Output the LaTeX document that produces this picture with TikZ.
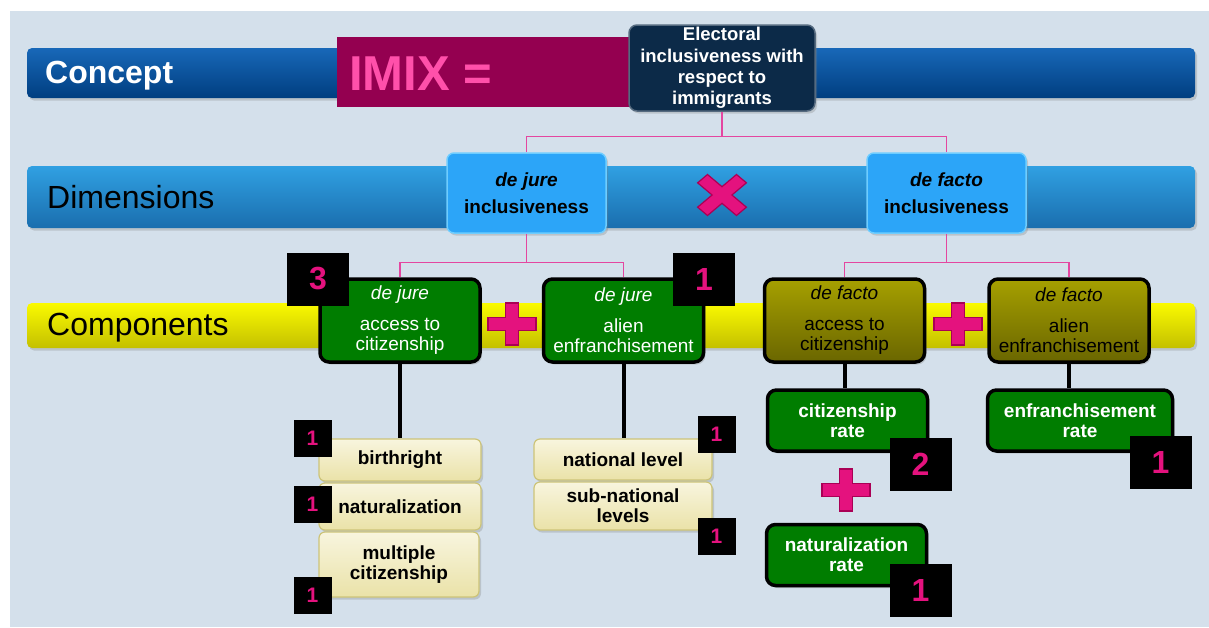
\documentclass[tikz,border=0pt]{standalone}
\usepackage{fontspec}
\setmainfont{Liberation Sans}
\usetikzlibrary{shadows}

\definecolor{panelbg}{RGB}{212,224,235}
\definecolor{conceptA}{RGB}{24,104,184}
\definecolor{conceptB}{RGB}{0,62,128}
\definecolor{imixbg}{RGB}{148,0,80}
\definecolor{imixtext}{RGB}{255,80,170}
\definecolor{navy}{RGB}{12,42,72}
\definecolor{dimA}{RGB}{48,160,226}
\definecolor{dimB}{RGB}{26,110,174}
\definecolor{dimfill}{RGB}{44,165,248}
\definecolor{dimedge}{RGB}{110,205,255}
\definecolor{yelA}{RGB}{250,250,0}
\definecolor{yelB}{RGB}{196,192,0}
\definecolor{leafgreen}{RGB}{0,125,0}
\definecolor{oliveA}{RGB}{166,160,0}
\definecolor{oliveB}{RGB}{106,102,0}
\definecolor{creamA}{RGB}{248,245,222}
\definecolor{creamB}{RGB}{234,226,168}
\definecolor{creamedge}{RGB}{205,196,120}
\definecolor{linkpink}{RGB}{228,70,160}
\definecolor{markpink}{RGB}{228,18,126}
\definecolor{markedge}{RGB}{170,0,85}

\newcommand{\bigfont}{\fontsize{32}{36}\selectfont}
\newcommand{\boxfont}{\fontsize{19}{20}\selectfont}
% cross shape: half length x, half length y, half thickness
\newcommand{\crosspath}[3]{(-#3,-#2) -- (#3,-#2) -- (#3,-#3) -- (#1,-#3) -- (#1,#3) -- (#3,#3) -- (#3,#2) -- (-#3,#2) -- (-#3,#3) -- (-#1,#3) -- (-#1,-#3) -- (-#3,-#3) -- cycle}

\tikzset{
  shadowed/.style={drop shadow={opacity=0.3, shadow xshift=2pt, shadow yshift=-2.5pt}},
  bar/.style={rounded corners=5pt, minimum width=1168pt, inner sep=0pt, shadowed},
  barlabel/.style={anchor=base west, inner sep=0pt, font=\bigfont},
  dimbox/.style={fill=dimfill, draw=dimedge, line width=1.5pt, rounded corners=7pt, minimum width=159pt, minimum height=80pt, inner sep=0pt, align=center, font=\boxfont\bfseries, shadowed},
  leaf/.style={fill=leafgreen, draw=black, line width=3.5pt, rounded corners=9pt, minimum width=160pt, minimum height=83pt, inner sep=0pt, align=center, text=white, font=\boxfont, shadowed},
  olivebox/.style={leaf, top color=oliveA, bottom color=oliveB, text=black},
  rate/.style={leaf, minimum height=61pt, font=\boxfont\bfseries},
  cream/.style={top color=creamA, bottom color=creamB, draw=creamedge, line width=1.2pt, rounded corners=6pt, inner sep=0pt, align=center, font=\boxfont\bfseries, shadowed},
  badge/.style={fill=black, text=markpink, inner sep=0pt, font=\bigfont\bfseries, minimum width=62pt, minimum height=53pt},
  smallbadge/.style={badge, font=\fontsize{21}{22}\selectfont\bfseries, minimum width=38pt, minimum height=37pt},
  link/.style={draw=linkpink, line width=1.3pt},
  stem/.style={draw=black, line width=4pt},
  crossmark/.style={fill=markpink, draw=markedge, line width=1.2pt, line join=miter}
}

\begin{document}
\begin{tikzpicture}[x=1pt,y=-1pt]
    \useasboundingbox (0,0) rectangle (1209,627);
    \fill[panelbg] (10,11) rectangle (1209,627);% background panel
    % the three level bars
    \node[bar, top color=conceptA, bottom color=conceptB, minimum height=50pt] (conceptbar) at (611,73) {};
    \node[bar, top color=dimA, bottom color=dimB, minimum height=62pt] (dimbar) at (611,197) {};
    \node[bar, top color=yelA, bottom color=yelB, minimum height=45pt] (compbar) at (611,325.5) {};
    \node[barlabel, text=white, font=\bigfont\bfseries] (conceptlbl) at (45,83) {Concept};
    \node[barlabel] (dimlbl) at (47,208) {Dimensions};
    \node[barlabel] (complbl) at (47,335) {Components};
    % concept
    \node[fill=imixbg, minimum width=294pt, minimum height=70pt, inner sep=0pt] (imixbox) at (484,72) {};
    \node[anchor=base west, inner sep=0pt, text=imixtext, font=\fontsize{49}{50}\selectfont\bfseries] (imix) at (349,90) {IMIX =};
    \node[fill=navy, draw=navy!70!white, line width=1.5pt, rounded corners=8pt, minimum width=186pt, minimum height=86pt, inner sep=0pt, text=white, align=center, font=\fontsize{18.5}{21.3}\selectfont\bfseries, shadowed] (elect) at (722,68) {Electoral\\inclusiveness with\\respect to\\immigrants};
    % dimensions
    \node[dimbox] (dimjure) at (526.5,193) {\itshape de jure\\[7pt]inclusiveness};
    \node[dimbox] (dimfacto) at (946.5,193) {\itshape de facto\\[7pt]inclusiveness};
    \draw[crossmark, shift={(722,195)}, yscale=0.84, rotate=45] \crosspath{27.5}{27.5}{7};% times sign
    % components
    \node[leaf] (compA) at (400,320.5) {{\itshape de jure}\\[11pt]access to\\citizenship};
    \node[leaf] (compB) at (623.5,320.5) {{\itshape de jure}\\[11pt]alien\\enfranchisement};
    \node[olivebox] (compC) at (844.5,320.5) {{\itshape de facto}\\[11pt]access to\\citizenship};
    \node[olivebox] (compD) at (1069,320.5) {{\itshape de facto}\\[11pt]alien\\enfranchisement};
    \draw[crossmark, shift={(512,324)}] \crosspath{24}{21}{6.5};% plus sign
    \draw[crossmark, shift={(958,324)}] \crosspath{24}{21}{6.5};% plus sign
    % indicators
    \node[cream, minimum width=162pt, minimum height=42pt] (birth) at (400,460) {birthright};
    \node[cream, minimum width=162pt, minimum height=47pt] (natur) at (400,506.5) {naturalization};
    \node[cream, minimum width=160pt, minimum height=65pt] (multi) at (399,564.5) {multiple\\citizenship};
    \node[cream, minimum width=178pt, minimum height=41pt] (national) at (623,459.5) {national level};
    \node[cream, minimum width=178pt, minimum height=48pt] (subnat) at (623,506) {sub-national\\levels};
    \node[rate, minimum width=160pt] (citrate) at (847.5,420.5) {citizenship\\rate};
    \node[rate, minimum width=185pt] (enfrate) at (1080,420.5) {enfranchisement\\rate};
    \node[rate, minimum width=160pt] (natrate) at (846.5,555) {naturalization\\rate};
    \draw[crossmark, shift={(846,490)}] \crosspath{24}{21}{6.5};% plus sign
    % connectors
    \draw[link] (elect.south) -- ++(0,25) -| (dimjure.north);
    \draw[link] (elect.south) -- ++(0,25) -| (dimfacto.north);
    \draw[link] (dimjure.south) -- ++(0,29) -| (compA.north);
    \draw[link] (dimjure.south) -- ++(0,29) -| (compB.north);
    \draw[link] (dimfacto.south) -- ++(0,29) -| (compC.north);
    \draw[link] (dimfacto.south) -- ++(0,29) -| (compD.north);
    \draw[stem] (compA.south) -- (compA.south |- birth.north);
    \draw[stem] (compB.south) -- (compB.south |- national.north);
    \draw[stem] (compC.south) -- (compC.south |- citrate.north);
    \draw[stem] (compD.south) -- (compD.south |- enfrate.north);
    % weights
    \node[badge] (wA) at (318,279) {3};
    \node[badge] (wB) at (704,279) {1};
    \node[badge] (wcit) at (920.5,464.5) {2};
    \node[badge] (wenf) at (1160.5,462.5) {1};
    \node[badge] (wnat) at (920.5,590) {1};
    \node[smallbadge] (wbirth) at (312.5,438) {1};
    \node[smallbadge] (wnatur) at (312.5,504.5) {1};
    \node[smallbadge] (wmulti) at (312.5,595) {1};
    \node[smallbadge] (wnational) at (716.5,434) {1};
    \node[smallbadge] (wsubnat) at (716.5,536) {1};
\end{tikzpicture}
\end{document}
